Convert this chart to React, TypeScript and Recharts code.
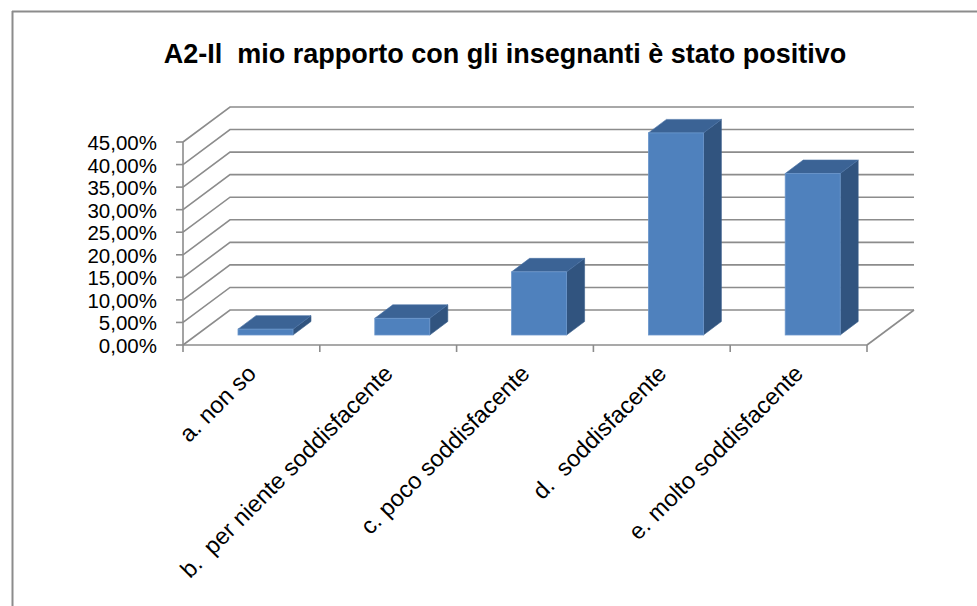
import { BarChart, Bar, XAxis, YAxis, CartesianGrid } from "recharts";

const categories = [
  "a. non so",
  "b.  per niente soddisfacente",
  "c. poco soddisfacente",
  "d.  soddisfacente",
  "e. molto soddisfacente",
];
const shares = [0.013, 0.037, 0.14, 0.448, 0.358];
const yTicks = [0, 0.05, 0.1, 0.15, 0.2, 0.25, 0.3, 0.35, 0.4, 0.45];
const title = "A2-Il  mio rapporto con gli insegnanti è stato positivo";

const data = categories.map((name, i) => ({ name, value: shares[i] }));

const W = 977;
const H = 606;
const PLOT_LEFT = 183;
const PLOT_RIGHT = 867;
const PLOT_TOP = 142;
const PLOT_BOTTOM = 345;
const HALF_BAND = (PLOT_RIGHT - PLOT_LEFT) / categories.length / 2;

// 3d offsets (back wall, bar plane, bar depth)
const WALL_DX = 47;
const WALL_DY = 35;
const BAR_DX = 14;
const BAR_DY = 10;
const DEPTH_DX = 18;
const DEPTH_DY = 13.5;

const GRID = "#8c8c8c";
const FONT = "'Liberation Sans', Arial, sans-serif";

const fmtPct = (v: number) => (v * 100).toFixed(2).replace(".", ",") + "%";

function wallLine(props: any) {
  const { x1, x2, y1, key } = props;
  const d = `M${x1},${y1} L${x1 + WALL_DX},${y1 - WALL_DY} L${x2 + WALL_DX},${y1 - WALL_DY}`;
  return <path key={key} d={d} fill="none" stroke={GRID} strokeWidth={1.6} />;
}

function Bar3D(props: any) {
  const { x, y, width, height } = props;
  if (height == null || width == null) return null;
  const fx = x + BAR_DX;
  const fy = y - BAR_DY;
  const fr = fx + width;
  const fb = fy + height;
  const top = `M${fx},${fy} L${fx + DEPTH_DX},${fy - DEPTH_DY} L${fr + DEPTH_DX},${fy - DEPTH_DY} L${fr},${fy} Z`;
  const side = `M${fr},${fy} L${fr + DEPTH_DX},${fy - DEPTH_DY} L${fr + DEPTH_DX},${fb - DEPTH_DY} L${fr},${fb} Z`;
  return (
    <g>
      <path d={side} fill="#31547f" stroke="#3a5f8c" strokeWidth={0.6} />
      <path d={top} fill="#3b6395" stroke="#4a72a6" strokeWidth={0.6} />
      <rect x={fx} y={fy} width={width} height={height} fill="#4f81bd" stroke="#6b97cc" strokeWidth={0.8} />
    </g>
  );
}

function YTick(props: any) {
  const { x, y, payload } = props;
  return (
    <text x={x} y={y} dy={8} textAnchor="end" fontSize={20.5} fontFamily={FONT} fill="#000">
      {fmtPct(payload.value)}
    </text>
  );
}

function XTick(props: any) {
  const { x, y, payload, index } = props;
  const ax = x + 6;
  const ay = y + 30;
  const last = index === categories.length - 1;
  return (
    <g>
      <line x1={x - HALF_BAND} y1={y} x2={x - HALF_BAND} y2={y + 7} stroke={GRID} strokeWidth={1.6} />
      {last && (
        <>
          <line x1={x + HALF_BAND} y1={y} x2={x + HALF_BAND} y2={y + 7} stroke={GRID} strokeWidth={1.6} />
          <line x1={x + HALF_BAND} y1={y} x2={x + HALF_BAND + WALL_DX} y2={y - WALL_DY} stroke={GRID} strokeWidth={1.6} />
        </>
      )}
      <text
        x={ax}
        y={ay}
        transform={`rotate(-45, ${ax}, ${ay})`}
        textAnchor="end"
        fontSize={23.5}
        fontFamily={FONT}
        fill="#000"
        style={{ whiteSpace: "pre" }}
      >
        {payload.value}
      </text>
    </g>
  );
}

export default function App() {
  return (
    <div style={{ position: "absolute", left: 0, top: 0, width: W, height: H, background: "#fff" }}>
      <svg width={W} height={H} style={{ position: "absolute", left: 0, top: 0 }}>
        <line x1={12} y1={11.5} x2={W} y2={11.5} stroke={GRID} strokeWidth={2} />
        <line x1={12.5} y1={11} x2={12.5} y2={H} stroke={GRID} strokeWidth={2} />
        <text
          x={505}
          y={63}
          textAnchor="middle"
          fontSize={27}
          fontWeight="bold"
          fontFamily={FONT}
          fill="#000"
          style={{ whiteSpace: "pre" }}
        >
          {title}
        </text>
      </svg>
      <div style={{ position: "absolute", left: 0, top: 0 }}>
        <BarChart
          width={W}
          height={H}
          data={data}
          margin={{ top: PLOT_TOP, right: W - PLOT_RIGHT, bottom: H - PLOT_BOTTOM - 100, left: PLOT_LEFT - 100 }}
        >
          <CartesianGrid horizontal={wallLine} vertical={false} />
          <XAxis
            dataKey="name"
            height={100}
            interval={0}
            tickSize={0}
            tickMargin={0}
            tickLine={false}
            axisLine={{ stroke: GRID, strokeWidth: 1.6 }}
            tick={<XTick />}
          />
          <YAxis
            width={100}
            domain={[0, 0.45]}
            ticks={yTicks}
            interval={0}
            tickSize={7}
            tickMargin={19}
            axisLine={{ stroke: GRID, strokeWidth: 1.6 }}
            tickLine={{ stroke: GRID, strokeWidth: 1.6 }}
            tick={<YTick />}
          />
          <Bar dataKey="value" barSize={55} shape={<Bar3D />} isAnimationActive={false} />
        </BarChart>
      </div>
    </div>
  );
}
